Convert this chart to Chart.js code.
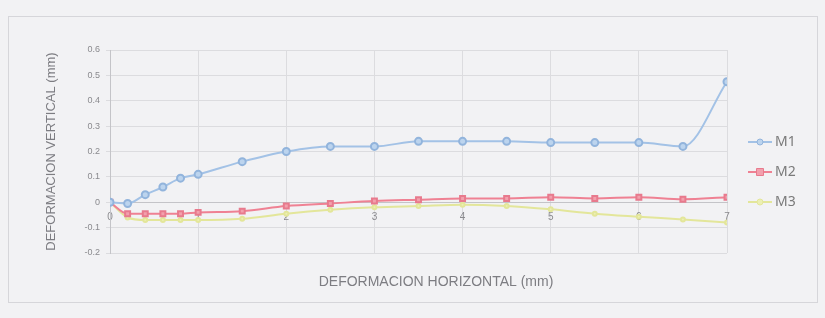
<!DOCTYPE html>
<html>
<head>
<meta charset="utf-8">
<script src="https://cdn.jsdelivr.net/npm/chart.js@4.4.0/dist/chart.umd.min.js"></script>
<style>
  html, body { margin: 0; padding: 0; background: #f2f2f4; }
  #wrap { position: relative; width: 825px; height: 318px; }
  #frame { position: absolute; left: 8px; top: 16px; width: 810px; height: 287px; border: 1px solid #d6d6da; box-sizing: border-box; }
  canvas { position: absolute; left: 0; top: 0; }
</style>
</head>
<body>
<div id="wrap">
  <div id="frame"></div>
  <canvas id="chart" width="825" height="318"></canvas>
</div>
<script>
// data
const xValues = [0, 0.2, 0.4, 0.6, 0.8, 1, 1.5, 2, 2.5, 3, 3.5, 4, 4.5, 5, 5.5, 6, 6.5, 7];
const m1 = [0, -0.005, 0.03, 0.06, 0.095, 0.11, 0.16, 0.2, 0.22, 0.22, 0.24, 0.24, 0.24, 0.235, 0.235, 0.235, 0.22, 0.475];
const m2 = [0, -0.045, -0.045, -0.045, -0.045, -0.04, -0.035, -0.015, -0.005, 0.005, 0.01, 0.015, 0.015, 0.02, 0.015, 0.02, 0.012, 0.02];
const m3 = [0, -0.06, -0.07, -0.07, -0.07, -0.07, -0.065, -0.045, -0.03, -0.02, -0.015, -0.01, -0.015, -0.028, -0.045, -0.057, -0.068, -0.08];
const seriesNames = ["M1", "M2", "M3"];
const xTicks = [0, 1, 2, 3, 4, 5, 6, 7];
const yTicks = [-0.2, -0.1, 0, 0.1, 0.2, 0.3, 0.4, 0.5, 0.6];
const yLabels = ["-0.2", "-0.1", "0", "0.1", "0.2", "0.3", "0.4", "0.5", "0.6"];
const xTitle = "DEFORMACION HORIZONTAL (mm)";
const yTitle = "DEFORMACION VERTICAL (mm)";

const toPoints = ys => xValues.map((x, i) => ({ x, y: ys[i] }));
const font = "'Liberation Sans', Arial, sans-serif";

// legend: line with marker, drawn next to the plot
const sideLegend = {
  id: "sideLegend",
  afterDraw(chart) {
    const ctx = chart.ctx;
    const rows = [142, 172, 202];
    chart.data.datasets.forEach((ds, i) => {
      const y = rows[i];
      ctx.save();
      ctx.strokeStyle = ds.borderColor;
      ctx.lineWidth = 2;
      ctx.beginPath();
      ctx.moveTo(748, y);
      ctx.lineTo(772, y);
      ctx.stroke();
      ctx.lineWidth = 1;
      ctx.fillStyle = ds.pointBackgroundColor;
      ctx.strokeStyle = ds.pointBorderColor;
      ctx.beginPath();
      if (ds.pointStyle === "rect") ctx.rect(760 - 3.5, y - 3.5, 7, 7);
      else ctx.arc(760, y, 3, 0, Math.PI * 2);
      ctx.fill();
      ctx.stroke();
      ctx.fillStyle = "#7a7a7a";
      ctx.font = "14px 'Noto Sans', sans-serif";
      ctx.textBaseline = "middle";
      ctx.fillText(ds.label, 775, y);
      ctx.restore();
    });
  }
};

// x axis title sits at the bottom of the frame, below the plot
const bottomTitle = {
  id: "bottomTitle",
  afterDraw(chart) {
    const ctx = chart.ctx;
    ctx.save();
    ctx.fillStyle = "#7d7d82";
    ctx.font = "14px " + font;
    ctx.textAlign = "center";
    ctx.textBaseline = "middle";
    ctx.fillText(xTitle, 436, 282);
    ctx.restore();
  }
};

new Chart(document.getElementById("chart"), {
  type: "line",
  data: {
    datasets: [
      {
        label: seriesNames[0], data: toPoints(m1),
        borderColor: "#a3c2e6", backgroundColor: "#a3c2e6",
        pointBackgroundColor: "#bcd4ee", pointBorderColor: "#92b4dc",
        pointStyle: "circle", pointRadius: 3.5, borderWidth: 2
      },
      {
        label: seriesNames[1], data: toPoints(m2),
        borderColor: "#ef8193", backgroundColor: "#ef8193",
        pointBackgroundColor: "#f2a0ad", pointBorderColor: "#e87a8d",
        pointStyle: "rect", pointRadius: 3.5, borderWidth: 2
      },
      {
        label: seriesNames[2], data: toPoints(m3),
        borderColor: "#e3e69a", backgroundColor: "#e3e69a",
        pointBackgroundColor: "#ecefb4", pointBorderColor: "#e3e69a",
        pointStyle: "circle", pointRadius: 2, borderWidth: 2
      }
    ]
  },
  options: {
    responsive: false,
    animation: false,
    cubicInterpolationMode: "monotone",
    layout: { padding: { left: 40, right: 98, top: 50, bottom: 65 } },
    plugins: {
      legend: { display: false },
      tooltip: { enabled: false }
    },
    scales: {
      x: {
        type: "linear",
        position: { y: 0 },
        min: 0, max: 7,
        afterBuildTicks: s => { s.ticks = xTicks.map(v => ({ value: v })); },
        grid: { color: "#dcdcdf", tickLength: 6 },
        border: { color: "#c4c4c8" },
        ticks: { padding: 3, color: "#8a8a8e", font: { family: font, size: 10 } }
      },
      y: {
        min: -0.2, max: 0.6,
        afterBuildTicks: s => { s.ticks = yTicks.map(v => ({ value: v })); },
        afterFit: s => { s.width = 70; },
        grid: { color: "#dcdcdf", tickLength: 4 },
        border: { color: "#c4c4c8" },
        ticks: {
          padding: 6, color: "#8a8a8e", font: { family: font, size: 9 },
          callback: (v, i) => yLabels[i]
        },
        title: {
          display: true, text: yTitle, color: "#7d7d82",
          font: { family: font, size: 13 }, padding: { top: 4, bottom: 0 }
        }
      }
    }
  },
  plugins: [sideLegend, bottomTitle]
});
</script>
</body>
</html>
